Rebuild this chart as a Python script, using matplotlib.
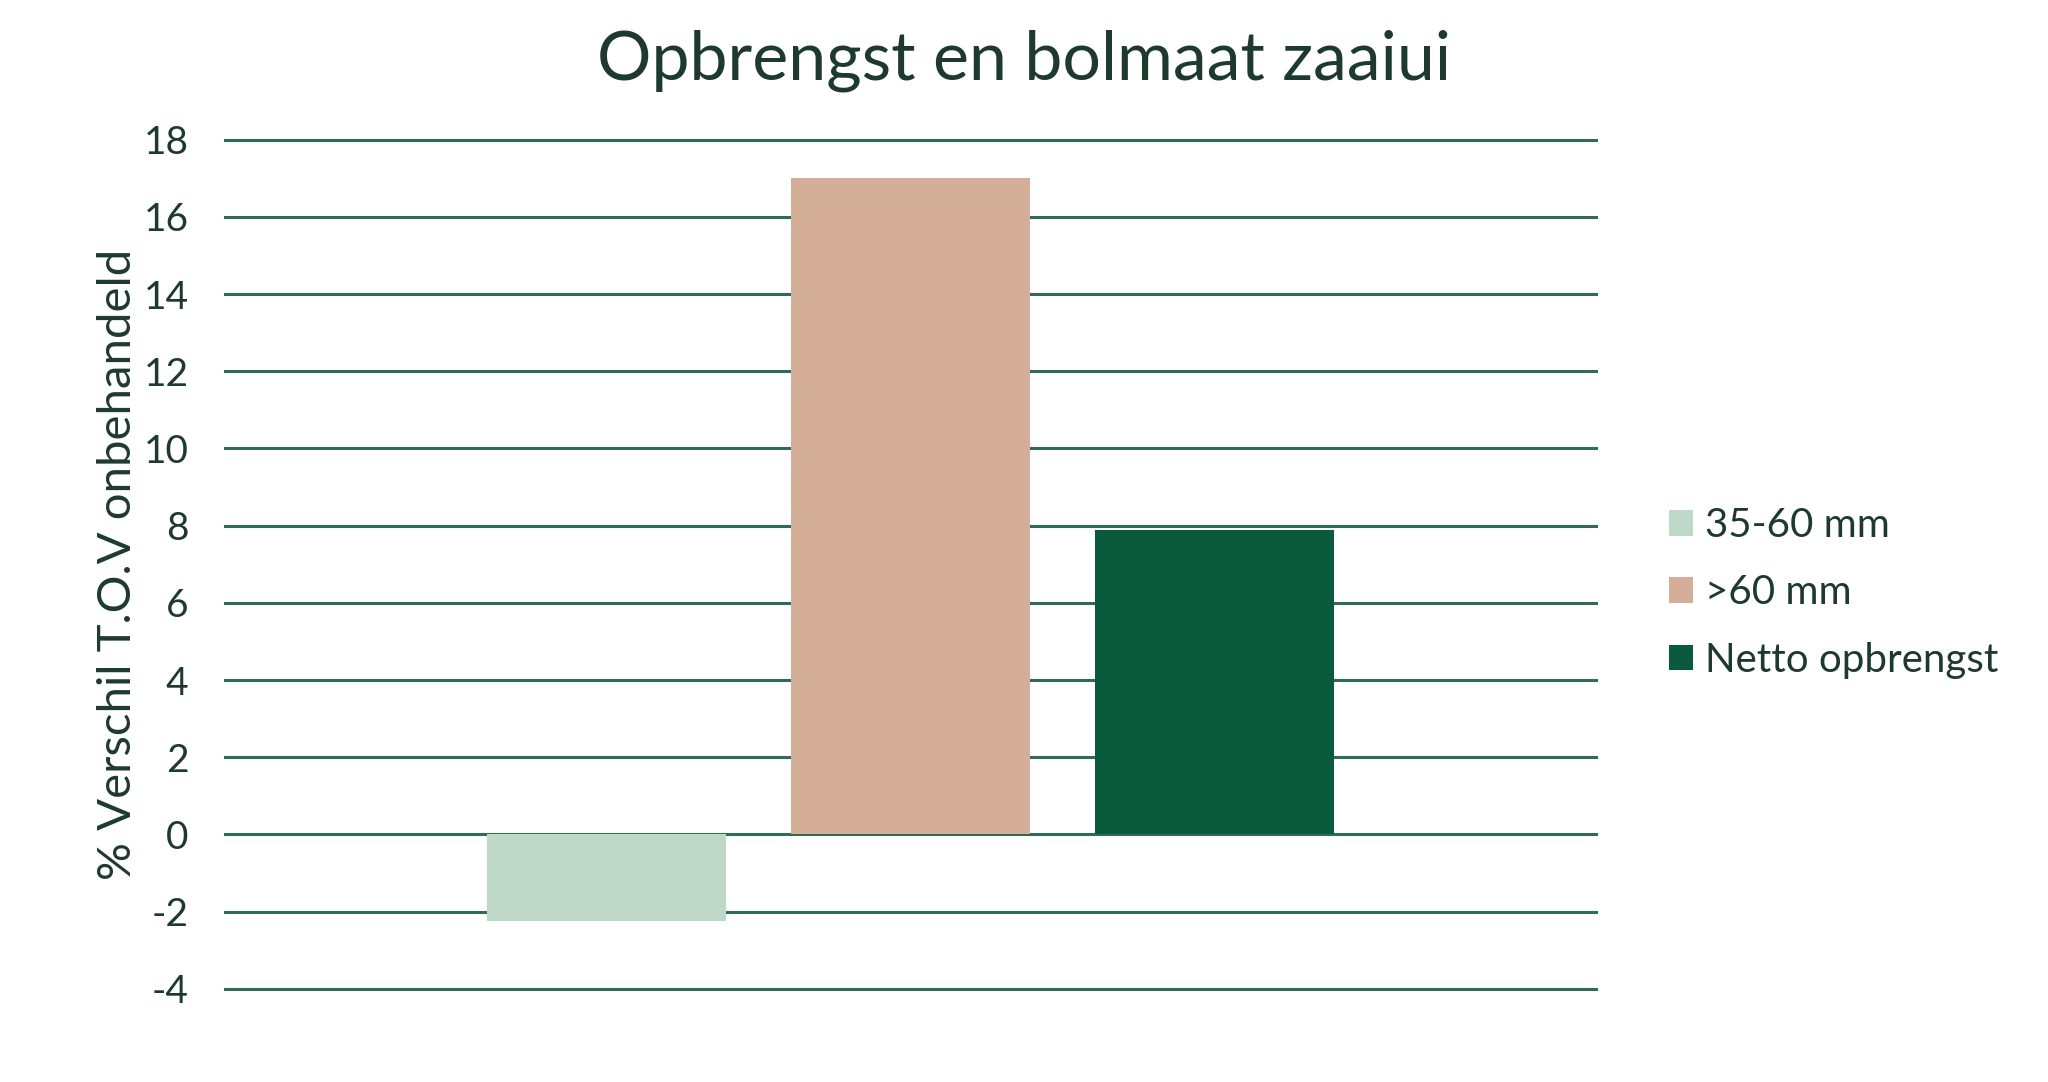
import matplotlib
matplotlib.use("Agg")
import matplotlib.pyplot as plt
import numpy as np

# data
series = ["35-60 mm", ">60 mm", "Netto opbrengst"]
values = [-2.25, 17.0, 7.9]
colors = ["#BDD8C7", "#D4AE99", "#0A5A3E"]
yticks = [-4, -2, 0, 2, 4, 6, 8, 10, 12, 14, 16, 18]

text_color = "#1E3A2E"
grid_color = "#2F6B55"

plt.rcParams['font.family'] = ['Lato', 'DejaVu Sans']

fig = plt.figure(figsize=(20.48, 10.82), dpi=100)
ax = fig.add_axes([0.1097, 0.0862, 0.6696, 0.7846])

# one category, three series side by side
x = np.arange(len(series)) - (len(series) - 1) / 2
for xi, v, c, name in zip(x, values, colors, series):
    ax.bar(xi, v, width=0.786, color=c, label=name, zorder=3)

ax.set_xlim(-2.255, 2.255)
ax.set_ylim(-4, 18)
ax.set_yticks(yticks)
ax.set_yticklabels([str(t) for t in yticks], fontsize=28, color=text_color)
ax.set_xticks([])
ax.tick_params(axis='y', length=0, pad=26)
for s in ax.spines.values():
    s.set_visible(False)
ax.yaxis.grid(True, color=grid_color, linewidth=2.2, zorder=0)
for gl in ax.get_ygridlines():
    gl.set_clip_on(False)

ax.set_ylabel("% Verschil T.O.V onbehandeld", fontsize=34, color=text_color,
              labelpad=3)

fig.text(0.5, 0.944, "Opbrengst en bolmaat zaaiui", fontsize=49,
         color=text_color, ha='center', va='center')

fig.legend(loc='center left', bbox_to_anchor=(0.797, 0.452), frameon=False,
           fontsize=29, handlelength=0.6, handleheight=0.6, handletextpad=0.3,
           labelspacing=0.75, labelcolor=text_color)

fig.savefig("out.png", dpi=100)
